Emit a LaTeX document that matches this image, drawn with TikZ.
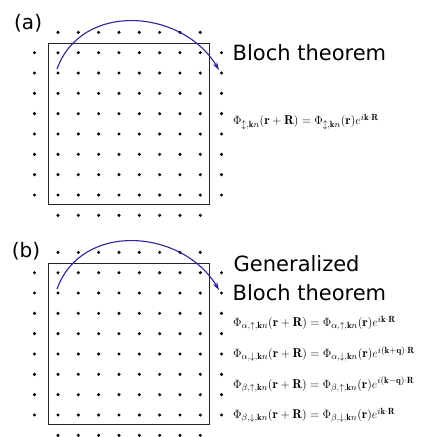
\documentclass[tikz,border=0pt]{standalone}
\usepackage{amsmath}
\usepackage{fontspec}
\newfontfamily\labelfont{DejaVu Sans}
\usetikzlibrary{arrows.meta}
\definecolor{hopblue}{RGB}{58,28,158}
\begin{document}
\begin{tikzpicture}[x=1pt, y=-1pt,
  cell/.style={draw=black!85, line width=0.9pt},
  hop/.style={draw=hopblue, line width=1.1pt, -{Stealth[length=8pt, width=5pt]}},
  panel/.style={anchor=base west, inner sep=0pt, font=\labelfont\fontsize{20}{24}\selectfont},
  title/.style={anchor=base west, inner sep=0pt, font=\labelfont\fontsize{21}{25}\selectfont},
  eq/.style={anchor=west, inner sep=0pt, font=\fontsize{12.8}{15}\selectfont}]
  \useasboundingbox (0,0) rectangle (429,437);
  % lattice sites of both panels
  \foreach \dy in {0, 220}
    \foreach \i in {0,...,7}
      \foreach \j in {-1,...,8} {
        \fill (58+20.33*\i, \dy+52.7+20.33*\j) circle (1.7pt);
      }
  \foreach \dy in {0, 220}
    \foreach \j in {0,...,7} {
      \fill (34.5, \dy+52.7+20.33*\j) circle (1.7pt);
      \fill (221.5, \dy+52.7+20.33*\j) circle (1.7pt);
    }
  % unit cells and hops
  \foreach \dy/\p in {0/a, 220/b} {
    \draw[cell] (48.7, \dy+43.7) rectangle (209.3, \dy+204.3);
    \coordinate (\p-from) at (57, \dy+69);
    \coordinate (\p-to) at (219, \dy+70);
    \draw[hop] (\p-from) .. controls (81.5, \dy+1.3) and (182, \dy+8.6) .. (\p-to);
  }
  \node[panel] (label-a) at (14, 29.4) {(a)};
  \node[panel] (label-b) at (11.7, 257.4) {(b)};
  \node[title] (bloch-a) at (232.5, 60.7) {Bloch theorem};
  \node[title] (general-b) at (233.5, 271.7) {Generalized};
  \node[title] (bloch-b) at (232.5, 300) {Bloch theorem};
  \node[eq] (eq-a) at (233, 122)
    {$\Phi_{\updownarrow,\mathbf{k}n}(\mathbf{r}+\mathbf{R})=\Phi_{\updownarrow,\mathbf{k}n}(\mathbf{r})e^{i\mathbf{k}\cdot\mathbf{R}}$};
  \node[eq] (eq-au) at (233, 323)
    {$\Phi_{\alpha,\uparrow,\mathbf{k}n}(\mathbf{r}+\mathbf{R})=\Phi_{\alpha,\uparrow,\mathbf{k}n}(\mathbf{r})e^{i\mathbf{k}\cdot\mathbf{R}}$};
  \node[eq] (eq-ad) at (233, 354)
    {$\Phi_{\alpha,\downarrow,\mathbf{k}n}(\mathbf{r}+\mathbf{R})=\Phi_{\alpha,\downarrow,\mathbf{k}n}(\mathbf{r})e^{i(\mathbf{k}+\mathbf{q})\cdot\mathbf{R}}$};
  \node[eq] (eq-bu) at (233, 384.5)
    {$\Phi_{\beta,\uparrow,\mathbf{k}n}(\mathbf{r}+\mathbf{R})=\Phi_{\beta,\uparrow,\mathbf{k}n}(\mathbf{r})e^{i(\mathbf{k}-\mathbf{q})\cdot\mathbf{R}}$};
  \node[eq] (eq-bd) at (233, 415)
    {$\Phi_{\beta,\downarrow,\mathbf{k}n}(\mathbf{r}+\mathbf{R})=\Phi_{\beta,\downarrow,\mathbf{k}n}(\mathbf{r})e^{i\mathbf{k}\cdot\mathbf{R}}$};
\end{tikzpicture}
\end{document}
